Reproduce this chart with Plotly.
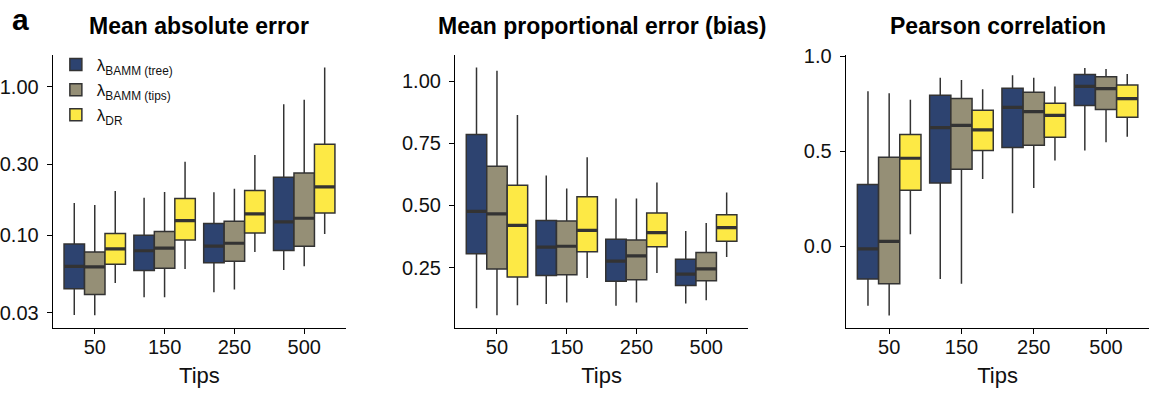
import plotly.graph_objects as go

# Tip-count categories shared by all three panels
tips = ["50", "150", "250", "500"]

# Series names and fill colours
series = ["tree", "tips", "dr"]
names = {
    "tree": "λ<sub>BAMM (tree)</sub>",
    "tips": "λ<sub>BAMM (tips)</sub>",
    "dr": "λ<sub>DR</sub>",
}
fills = {"tree": "#2D4370", "tips": "#958F76", "dr": "#FDE945"}

# --- Mean absolute error (log scale) ---
mae_tree_lo = [0.0289, 0.0381, 0.0411, 0.0582]
mae_tree_q1 = [0.0435, 0.0577, 0.0651, 0.0788]
mae_tree_med = [0.0616, 0.0785, 0.0843, 0.123]
mae_tree_q3 = [0.0873, 0.100, 0.120, 0.2455]
mae_tree_hi = [0.165, 0.1787, 0.1948, 0.765]

mae_tips_lo = [0.0288, 0.0381, 0.043, 0.0616]
mae_tips_q1 = [0.0397, 0.0598, 0.0667, 0.0843]
mae_tips_med = [0.061, 0.0818, 0.0882, 0.130]
mae_tips_q3 = [0.0769, 0.1057, 0.124, 0.2625]
mae_tips_hi = [0.160, 0.1956, 0.206, 0.821]

mae_dr_lo = [0.0476, 0.0591, 0.0769, 0.102]
mae_dr_q1 = [0.0635, 0.0927, 0.1036, 0.141]
mae_dr_med = [0.0809, 0.1255, 0.139, 0.212]
mae_dr_q3 = [0.1026, 0.177, 0.200, 0.411]
mae_dr_hi = [0.1987, 0.313, 0.348, 1.354]

# --- Mean proportional error (bias) ---
mpe_tree_lo = [0.0865, 0.1033, 0.097, 0.106]
mpe_tree_q1 = [0.306, 0.2186, 0.195, 0.178]
mpe_tree_med = [0.476, 0.332, 0.276, 0.224]
mpe_tree_q3 = [0.786, 0.439, 0.364, 0.284]
mpe_tree_hi = [1.055, 0.621, 0.528, 0.397]

mpe_tips_lo = [0.058, 0.110, 0.110, 0.119]
mpe_tips_q1 = [0.2445, 0.221, 0.201, 0.197]
mpe_tips_med = [0.466, 0.336, 0.297, 0.2445]
mpe_tips_q3 = [0.658, 0.437, 0.361, 0.311]
mpe_tips_hi = [1.042, 0.568, 0.528, 0.429]

mpe_dr_lo = [0.099, 0.208, 0.228, 0.293]
mpe_dr_q1 = [0.212, 0.314, 0.3335, 0.356]
mpe_dr_med = [0.420, 0.400, 0.391, 0.411]
mpe_dr_q3 = [0.581, 0.535, 0.4696, 0.463]
mpe_dr_hi = [0.864, 0.694, 0.592, 0.552]

# --- Pearson correlation ---
pc_tree_lo = [-0.313, -0.173, 0.174, 0.504]
pc_tree_q1 = [-0.173, 0.333, 0.519, 0.740]
pc_tree_med = [-0.014, 0.624, 0.731, 0.841]
pc_tree_q3 = [0.325, 0.795, 0.831, 0.904]
pc_tree_hi = [0.815, 0.887, 0.899, 0.938]

pc_tips_lo = [-0.364, -0.197, 0.306, 0.547]
pc_tips_q1 = [-0.197, 0.405, 0.531, 0.719]
pc_tips_med = [0.0256, 0.636, 0.708, 0.829]
pc_tips_q3 = [0.468, 0.777, 0.810, 0.892]
pc_tips_hi = [0.805, 0.875, 0.887, 0.933]

pc_dr_lo = [0.063, 0.354, 0.451, 0.576]
pc_dr_q1 = [0.294, 0.504, 0.574, 0.678]
pc_dr_med = [0.463, 0.612, 0.689, 0.777]
pc_dr_q3 = [0.588, 0.716, 0.752, 0.848]
pc_dr_hi = [0.771, 0.826, 0.841, 0.906]

panels = [
    {
        "title": "Mean absolute error",
        "data": {
            "tree": (mae_tree_lo, mae_tree_q1, mae_tree_med, mae_tree_q3, mae_tree_hi),
            "tips": (mae_tips_lo, mae_tips_q1, mae_tips_med, mae_tips_q3, mae_tips_hi),
            "dr": (mae_dr_lo, mae_dr_q1, mae_dr_med, mae_dr_q3, mae_dr_hi),
        },
    },
    {
        "title": "Mean proportional error (bias)",
        "data": {
            "tree": (mpe_tree_lo, mpe_tree_q1, mpe_tree_med, mpe_tree_q3, mpe_tree_hi),
            "tips": (mpe_tips_lo, mpe_tips_q1, mpe_tips_med, mpe_tips_q3, mpe_tips_hi),
            "dr": (mpe_dr_lo, mpe_dr_q1, mpe_dr_med, mpe_dr_q3, mpe_dr_hi),
        },
    },
    {
        "title": "Pearson correlation",
        "data": {
            "tree": (pc_tree_lo, pc_tree_q1, pc_tree_med, pc_tree_q3, pc_tree_hi),
            "tips": (pc_tips_lo, pc_tips_q1, pc_tips_med, pc_tips_q3, pc_tips_hi),
            "dr": (pc_dr_lo, pc_dr_q1, pc_dr_med, pc_dr_q3, pc_dr_hi),
        },
    },
]

W, H = 1150, 395
FONT = "Liberation Sans, Arial, Helvetica, sans-serif"
INK = "#333333"

x_domains = [(50 / W, 344 / W), (453.3 / W, 747 / W), (845 / W, 1149.4 / W)]
y_domain = (1 - 326 / H, 1 - 46 / H)

fig = go.Figure()

for i, panel in enumerate(panels):
    sfx = "" if i == 0 else str(i + 1)
    xref, yref = "x" + sfx, "y" + sfx
    for s in series:
        lo, q1, med, q3, hi = panel["data"][s]
        # box with whiskers
        fig.add_trace(go.Box(
            x=tips, q1=q1, median=med, q3=q3, lowerfence=lo, upperfence=hi,
            name=names[s], legendgroup=s, showlegend=(i == 0),
            fillcolor=fills[s], line=dict(color=INK, width=1.5),
            whiskerwidth=0, boxpoints=False,
            offsetgroup=s, alignmentgroup="p" + str(i),
            xaxis=xref, yaxis=yref, hoverinfo="skip",
        ))
        # heavier median bar drawn over the box
        fig.add_trace(go.Box(
            x=tips, q1=med, median=med, q3=med, lowerfence=med, upperfence=med,
            name=names[s], legendgroup=s, showlegend=False,
            fillcolor="rgba(0,0,0,0)", line=dict(color=INK, width=3.2),
            whiskerwidth=0, boxpoints=False,
            offsetgroup=s, alignmentgroup="p" + str(i),
            xaxis=xref, yaxis=yref, hoverinfo="skip",
        ))

axis_common = dict(
    showline=True, linecolor="black", linewidth=1.4,
    ticks="outside", ticklen=5, tickwidth=1.4, tickcolor="black",
    showgrid=False, zeroline=False,
    tickfont=dict(family=FONT, size=20, color="#111111"),
)

y_specs = [
    dict(type="log", range=[-1.625, 0.217],
         tickvals=[0.03, 0.1, 0.3, 1.0], ticktext=["0.03", "0.10", "0.30", "1.00"]),
    dict(range=[0.008, 1.106],
         tickvals=[0.25, 0.5, 0.75, 1.0], ticktext=["0.25", "0.50", "0.75", "1.00"]),
    dict(range=[-0.429, 1.007],
         tickvals=[0.0, 0.5, 1.0], ticktext=["0.0", "0.5", "1.0"]),
]

layout = dict(
    width=W, height=H,
    margin=dict(l=0, r=0, t=0, b=0),
    paper_bgcolor="white", plot_bgcolor="white",
    boxmode="group", boxgap=0.12, boxgroupgap=0,
    font=dict(family=FONT, color="#111111"),
    legend=dict(
        x=52 / W, y=1 - 38 / H, xanchor="left", yanchor="top",
        bgcolor="rgba(0,0,0,0)", font=dict(family=FONT, size=17),
        tracegroupgap=0, itemwidth=32,
    ),
    annotations=[],
)

for i in range(3):
    sfx = "" if i == 0 else str(i + 1)
    layout["xaxis" + sfx] = dict(
        axis_common, domain=list(x_domains[i]), anchor="y" + sfx,
        type="category", categoryorder="array", categoryarray=tips,
        range=[-0.6, 3.6], ticklabelstandoff=-4,
        title=dict(text="Tips", font=dict(family=FONT, size=22, color="#111111"), standoff=10),
    )
    layout["yaxis" + sfx] = dict(
        axis_common, domain=list(y_domain), anchor="x" + sfx,
        ticklabelstandoff=4, **y_specs[i],
    )
    layout["annotations"].append(dict(
        text="<b>" + panels[i]["title"] + "</b>",
        x=(x_domains[i][0] + x_domains[i][1]) / 2, y=1 - 16 / H,
        xref="paper", yref="paper", xanchor="center", yanchor="middle",
        showarrow=False, font=dict(family=FONT, size=23, color="black"),
    ))

layout["annotations"].append(dict(
    text="<b>a</b>", x=18 / W, y=1 - 10 / H, xref="paper", yref="paper",
    xanchor="center", yanchor="middle", showarrow=False,
    font=dict(family=FONT, size=30, color="black"),
))

fig.update_layout(**layout)
fig.write_html("out.html")
